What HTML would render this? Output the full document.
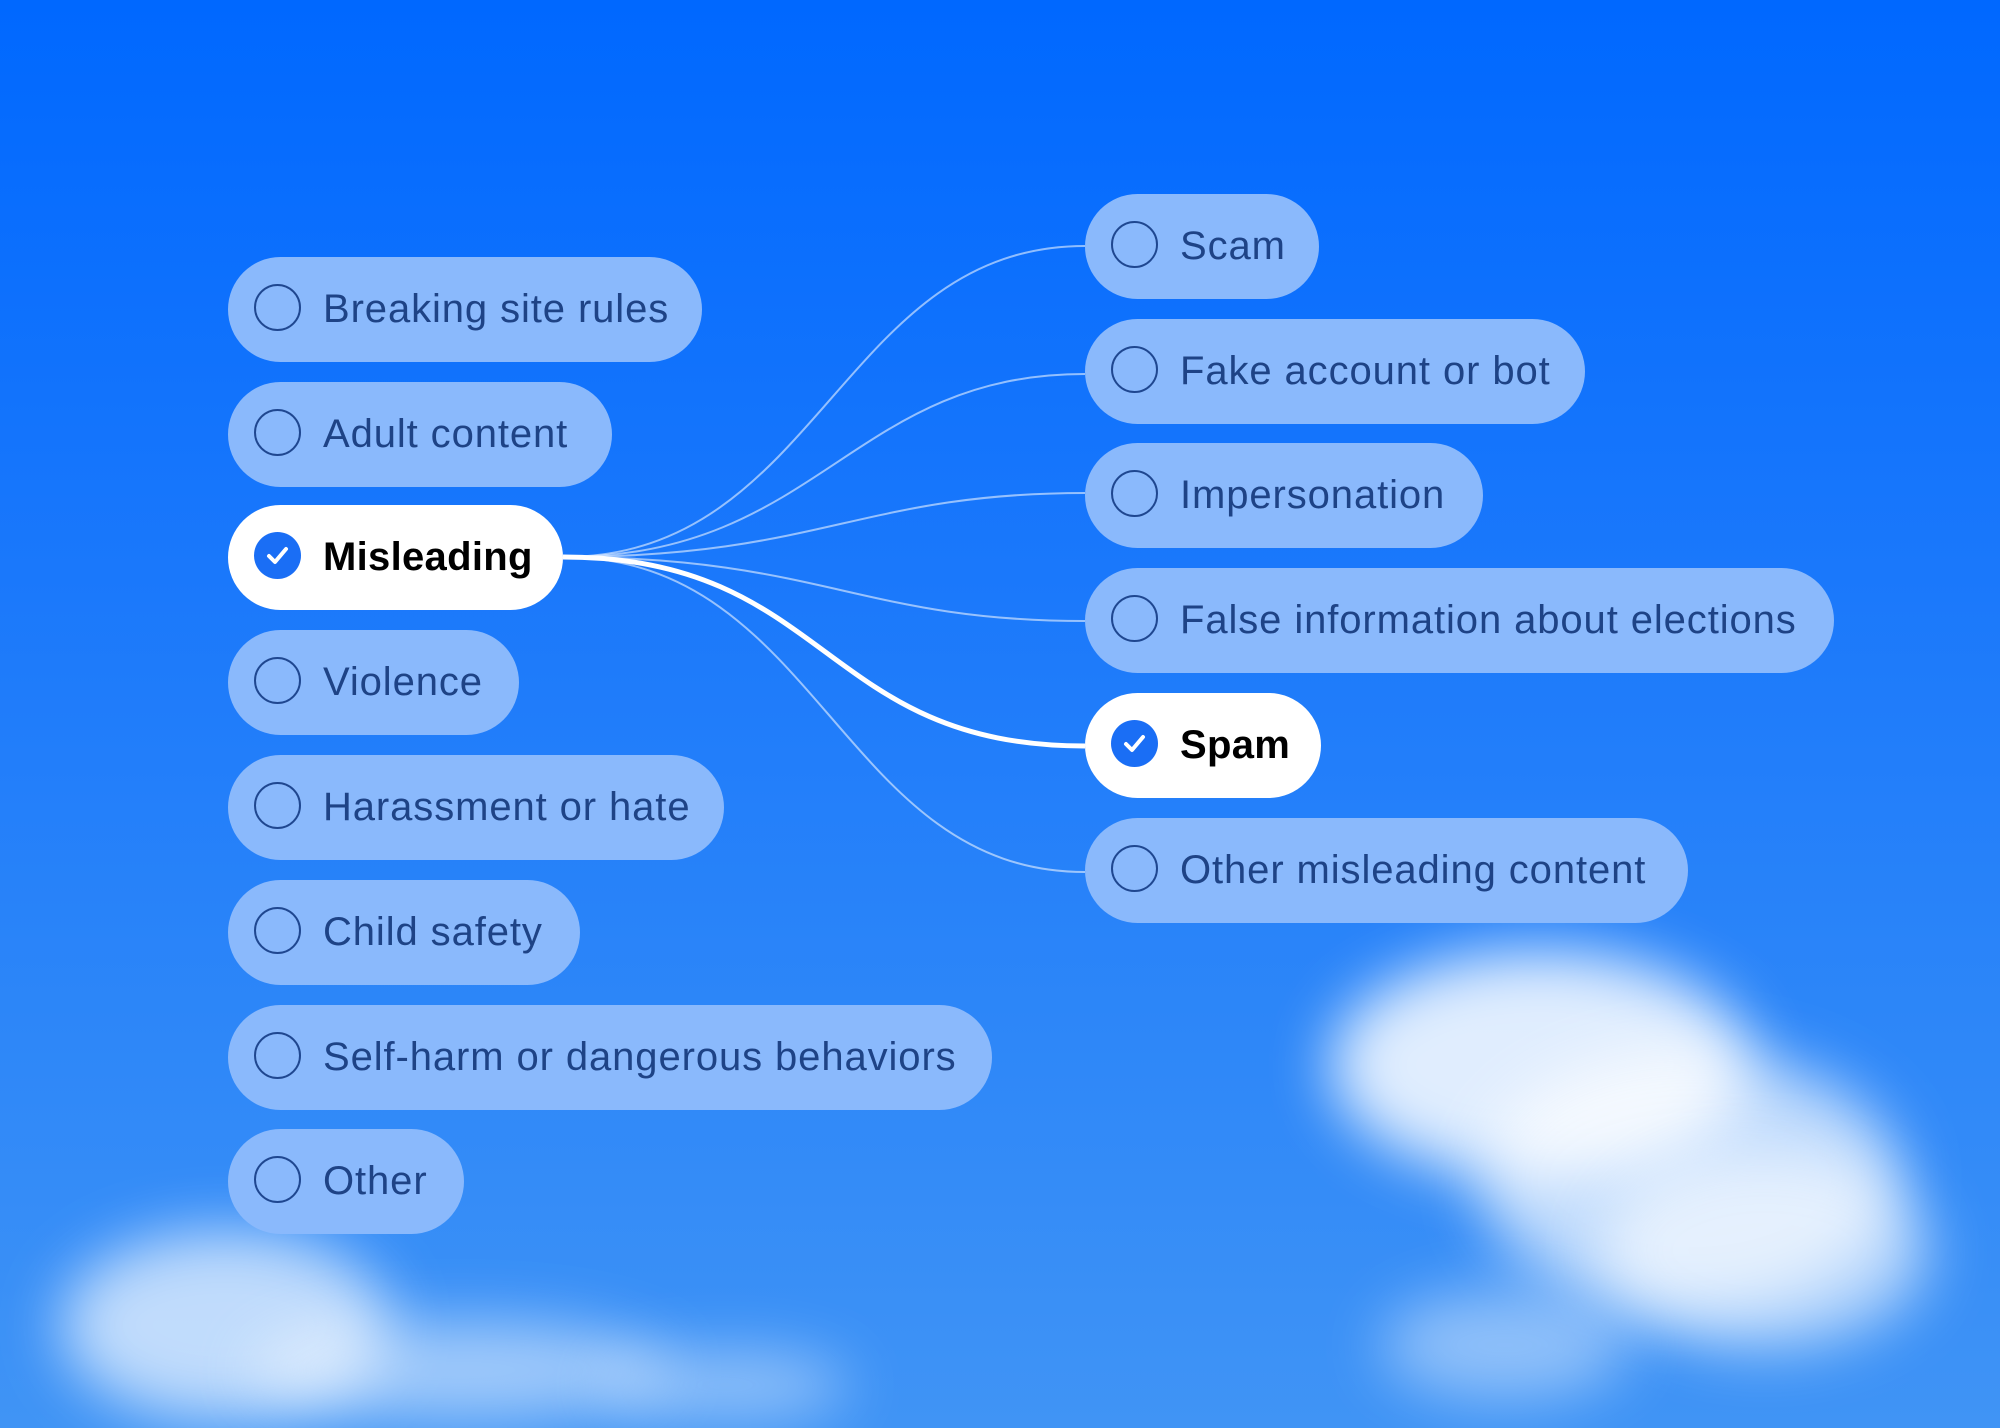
<!DOCTYPE html>
<html><head><style>
html,body{margin:0;padding:0;width:2000px;height:1428px;overflow:hidden;background:#2f88f8}
#w{width:2000px;height:1428px;position:relative;overflow:hidden;
background:linear-gradient(180deg,#0068ff 0%,#1a78fb 40%,#2f88f8 75%,#4094f5 100%);
font-family:"Liberation Sans",sans-serif}
.cl{position:absolute;border-radius:50%;background:rgba(255,255,255,0.85);filter:blur(30px)}
.pill{position:absolute;height:105px;border-radius:53px;background:#8ab9fc;box-sizing:border-box}
.pill .c{position:absolute;left:26px;top:27px;width:47px;height:47px;border:2.5px solid #1f4790;border-radius:50%;box-sizing:border-box}
.pill span{position:absolute;left:95px;top:0;line-height:105px;font-size:40px;letter-spacing:0.9px;color:#1e4386;white-space:nowrap}
.sel{background:#fff}
.sel .c{background:#1a6ef5;border:none}
.sel span{color:#000;font-weight:bold;letter-spacing:0.3px}
svg{position:absolute;left:0;top:0}
</style></head><body><div id="w">
<div class="cl" style="left:1330px;top:950px;width:420px;height:230px"></div>
<div class="cl" style="left:1480px;top:1050px;width:420px;height:260px;opacity:.8"></div>
<div class="cl" style="left:1600px;top:1150px;width:330px;height:200px;opacity:.7"></div>
<div class="cl" style="left:1380px;top:1290px;width:250px;height:110px;opacity:.5"></div>
<div class="cl" style="left:60px;top:1230px;width:330px;height:190px;opacity:.8"></div>
<div class="cl" style="left:250px;top:1320px;width:420px;height:100px;opacity:.6"></div>
<div class="cl" style="left:600px;top:1350px;width:250px;height:70px;opacity:.5"></div>
<svg width="2000" height="1428">
<g fill="none" stroke="rgba(255,255,255,0.55)" stroke-width="2">
<path d="M563 557 C820 557 840 246 1085 246"/>
<path d="M563 557 C820 557 850 374 1085 374"/>
<path d="M563 557 C820 557 860 493 1085 493"/>
<path d="M563 557 C820 557 860 621 1085 621"/>
<path d="M563 557 C820 557 840 872 1085 872"/>
</g>
<path d="M563 557 C830 557 820 746 1085 746" fill="none" stroke="#fff" stroke-width="5"/>
</svg>
<div class="pill" style="left:228px;top:257px;width:474px"><div class="c"></div><span>Breaking site rules</span></div>
<div class="pill" style="left:228px;top:382px;width:384px"><div class="c"></div><span>Adult content</span></div>
<div class="pill sel" style="left:228px;top:505px;width:335px"><div class="c"><svg width="47" height="47" style="position:absolute;left:0;top:0"><path d="M15 24 L21 30 L32 17" fill="none" stroke="#fff" stroke-width="4" stroke-linecap="round" stroke-linejoin="round"/></svg></div><span>Misleading</span></div>
<div class="pill" style="left:228px;top:630px;width:291px"><div class="c"></div><span>Violence</span></div>
<div class="pill" style="left:228px;top:755px;width:496px"><div class="c"></div><span>Harassment or hate</span></div>
<div class="pill" style="left:228px;top:880px;width:352px"><div class="c"></div><span>Child safety</span></div>
<div class="pill" style="left:228px;top:1005px;width:764px"><div class="c"></div><span>Self-harm or dangerous behaviors</span></div>
<div class="pill" style="left:228px;top:1129px;width:236px"><div class="c"></div><span>Other</span></div>

<div class="pill" style="left:1085px;top:194px;width:234px"><div class="c"></div><span>Scam</span></div>
<div class="pill" style="left:1085px;top:319px;width:500px"><div class="c"></div><span>Fake account or bot</span></div>
<div class="pill" style="left:1085px;top:443px;width:398px"><div class="c"></div><span>Impersonation</span></div>
<div class="pill" style="left:1085px;top:568px;width:749px"><div class="c"></div><span>False information about elections</span></div>
<div class="pill sel" style="left:1085px;top:693px;width:236px"><div class="c"><svg width="47" height="47" style="position:absolute;left:0;top:0"><path d="M15 24 L21 30 L32 17" fill="none" stroke="#fff" stroke-width="4" stroke-linecap="round" stroke-linejoin="round"/></svg></div><span>Spam</span></div>
<div class="pill" style="left:1085px;top:818px;width:603px"><div class="c"></div><span>Other misleading content</span></div>
</div></body></html>
